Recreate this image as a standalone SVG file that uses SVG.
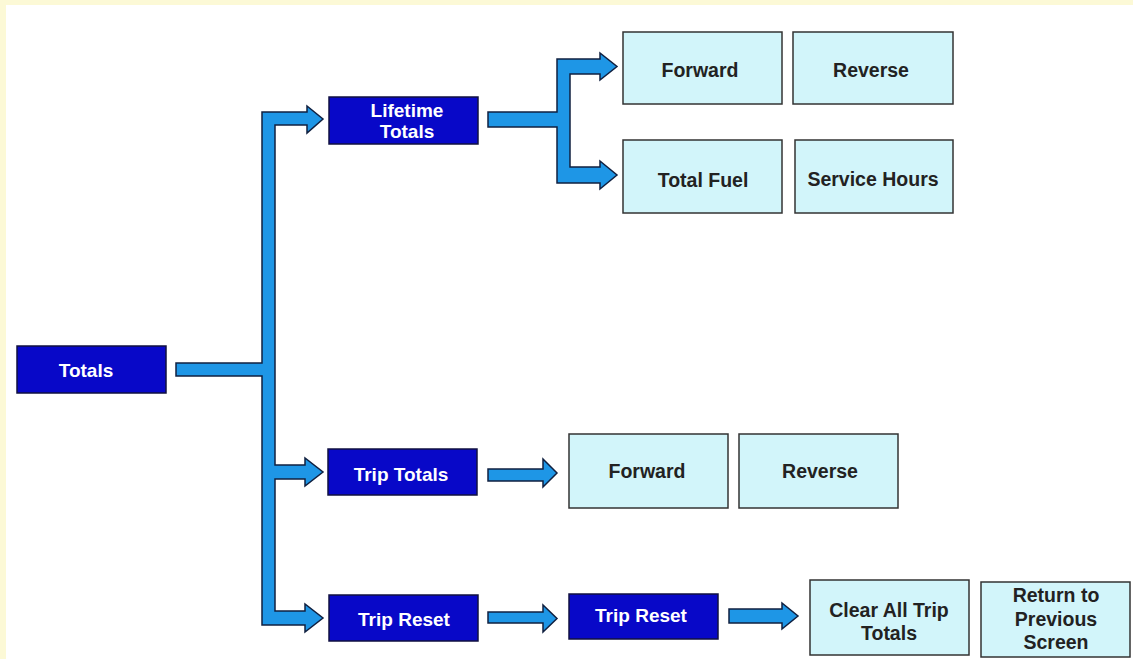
<svg xmlns="http://www.w3.org/2000/svg" width="1133" height="659" viewBox="0 0 1133 659">
<style>
.dark rect{fill:#0808C8;stroke:#101040;stroke-width:1.5}
.light rect{fill:#D2F5FA;stroke:#333;stroke-width:1.5}
.dark text{fill:#fff;font-family:"Liberation Sans",Arial,sans-serif;font-weight:bold;font-size:19px;text-anchor:middle}
.light text{fill:#222;font-family:"Liberation Sans",Arial,sans-serif;font-weight:bold;font-size:19.5px;text-anchor:middle}
.conn path{fill:#1E96E6;stroke:#102040;stroke-width:1.5;stroke-linejoin:miter}
</style>
<rect x="0" y="0" width="1133" height="659" fill="#fff"/>
<rect x="0" y="0" width="1133" height="5" fill="#FCF9D6"/>
<rect x="0" y="0" width="6" height="659" fill="#FCF9D6"/>
<g id="connectors" class="conn">
<path d="M176,363 L262,363 L262,112 L307,112 L307,106 L323,119 L307,133 L307,125 L275,125 L275,465 L305,465 L305,458 L323,472 L305,486 L305,479 L275,479 L275,611 L305,611 L305,604 L323,618 L305,632 L305,625 L262,625 L262,376 L176,376 Z"/>
<path d="M488,112 L557,112 L557,59 L600,59 L600,53 L617,66.5 L600,80 L600,74 L570,74 L570,167 L600,167 L600,161 L617,175 L600,189 L600,183 L557,183 L557,127 L488,127 Z"/>
<path d="M488,469 L543,469 L543,459 L557,473 L543,487 L543,481 L488,481 Z"/>
<path d="M488,612 L543,612 L543,605 L557,618.5 L543,632 L543,623 L488,623 Z"/>
<path d="M729,609 L782,609 L782,603 L798,616 L782,629 L782,623 L729,623 Z"/>
</g>
<g id="totals" class="dark"><rect x="17" y="346" width="149" height="47"/><text x="86" y="377">Totals</text></g>
<g id="lifetime-totals" class="dark"><rect x="329" y="97" width="149" height="47"/><text x="407" y="117">Lifetime</text><text x="407" y="138">Totals</text></g>
<g id="trip-totals" class="dark"><rect x="328" y="449" width="149" height="46"/><text x="401" y="481">Trip Totals</text></g>
<g id="trip-reset-1" class="dark"><rect x="329" y="595" width="149" height="46"/><text x="404" y="626">Trip Reset</text></g>
<g id="trip-reset-2" class="dark"><rect x="569" y="594" width="149" height="45"/><text x="641" y="622">Trip Reset</text></g>
<g id="lt-forward" class="light"><rect x="623" y="32" width="159" height="72"/><text x="700" y="77">Forward</text></g>
<g id="lt-reverse" class="light"><rect x="793" y="32" width="160" height="72"/><text x="871" y="77">Reverse</text></g>
<g id="lt-total-fuel" class="light"><rect x="623" y="140" width="159" height="73"/><text x="703" y="187">Total Fuel</text></g>
<g id="lt-service-hours" class="light"><rect x="795" y="140" width="158" height="73"/><text x="873" y="186">Service Hours</text></g>
<g id="tt-forward" class="light"><rect x="569" y="434" width="159" height="74"/><text x="647" y="478">Forward</text></g>
<g id="tt-reverse" class="light"><rect x="739" y="434" width="159" height="74"/><text x="820" y="478">Reverse</text></g>
<g id="clear-all" class="light"><rect x="810" y="580" width="159" height="75"/><text x="889" y="617">Clear All Trip</text><text x="889" y="640">Totals</text></g>
<g id="return-prev" class="light"><rect x="981" y="582" width="149" height="75"/><text x="1056" y="602">Return to</text><text x="1056" y="626">Previous</text><text x="1056" y="649">Screen</text></g>
</svg>
